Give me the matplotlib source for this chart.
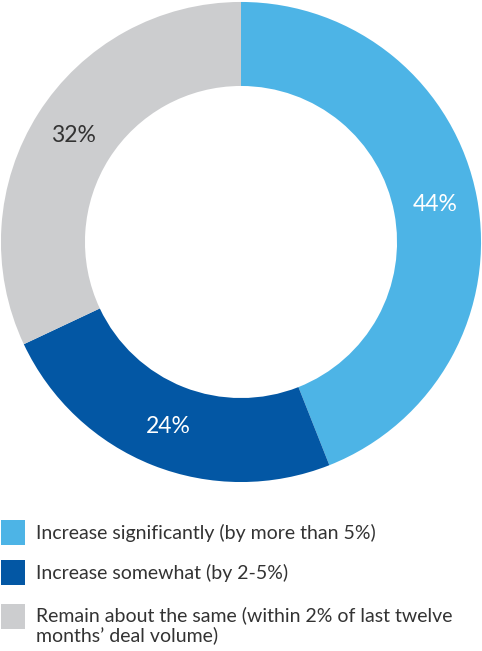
import matplotlib.pyplot as plt
from matplotlib.patches import Rectangle

labels = ["Increase significantly (by more than 5%)",
          "Increase somewhat (by 2-5%)",
          "Remain about the same (within 2% of last twelve\nmonths\u2019 deal volume)"]
values = [44, 24, 32]
colors = ["#4DB4E6", "#0357A4", "#CCCDCF"]
pct_colors = ["white", "white", "#333333"]

plt.rcParams["font.family"] = ["Lato", "DejaVu Sans"]

fig = plt.figure(figsize=(4.82, 6.51), dpi=100)

# donut
ax = fig.add_axes([0, (651 - 484) / 651, 1, 484 / 651])
wedges, texts, autotexts = ax.pie(values, colors=colors, startangle=90, counterclock=False,
                                  radius=1, wedgeprops=dict(width=0.35, linewidth=0),
                                  autopct="%d%%", pctdistance=0.825,
                                  textprops=dict(fontsize=16.5))
for t, c in zip(autotexts, pct_colors):
    t.set_color(c)
ax.set_xlim(-1.004, 1.004)
ax.set_ylim(-1.004, 1.004)
ax.set_aspect("equal")
ax.axis("off")

# legend
lax = fig.add_axes([0, 0, 1, 1])
lax.set_xlim(0, 482)
lax.set_ylim(651, 0)
lax.axis("off")
rows_y = [520, 560, 604]
text_y = [532.5, 572.5, 606]
for i in range(3):
    lax.add_patch(Rectangle((1, rows_y[i]), 24, 25, color=colors[i], lw=0))
    lax.text(36, text_y[i], labels[i], fontsize=14, color="#333333", va="center" if i < 2 else "top",
             linespacing=1.15)

fig.savefig("out.png", dpi=100)
